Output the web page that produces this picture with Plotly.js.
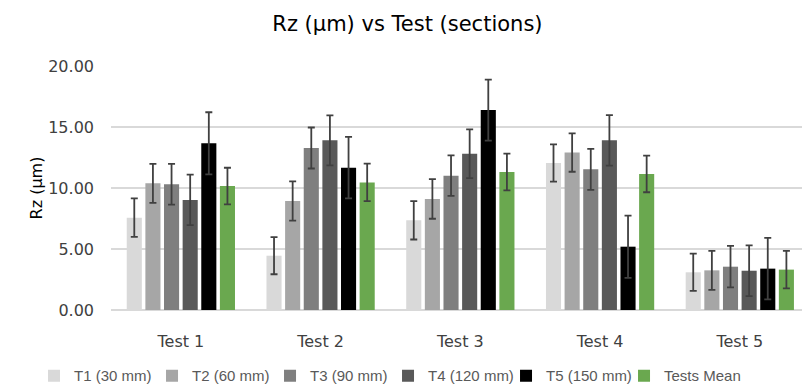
<!DOCTYPE html>
<html>
<head>
<meta charset="utf-8">
<script src="https://cdn.plot.ly/plotly-3.0.1.min.js"></script>
<style>html,body{margin:0;padding:0;background:#fff;}#chart{width:802px;height:386px;}</style>
</head>
<body>
<div id="chart"></div>
<script>
const categories = ["Test 1", "Test 2", "Test 3", "Test 4", "Test 5"];
const seriesNames = ["T1 (30 mm)", "T2 (60 mm)", "T3 (90 mm)", "T4 (120 mm)", "T5 (150 mm)", "Tests Mean"];
const t1 = [7.57, 4.45, 7.35, 12.05, 3.09];
const t2 = [10.38, 8.93, 9.10, 12.90, 3.25];
const t3 = [10.30, 13.28, 11.01, 11.53, 3.55];
const t4 = [9.02, 13.91, 12.81, 13.91, 3.22];
const t5 = [13.66, 11.67, 16.39, 5.19, 3.39];
const mean = [10.16, 10.46, 11.31, 11.15, 3.31];
const t1Err = [1.58, 1.52, 1.57, 1.53, 1.53];
const t2Err = [1.60, 1.61, 1.62, 1.57, 1.60];
const t3Err = [1.67, 1.68, 1.66, 1.68, 1.70];
const t4Err = [2.07, 2.05, 2.00, 2.07, 2.08];
const t5Err = [2.55, 2.52, 2.50, 2.55, 2.52];
const meanErr = [1.50, 1.53, 1.50, 1.50, 1.53];
const yTicks = [0, 5, 10, 15, 20];
const yTickLabels = ["0.00", "5.00", "10.00", "15.00", "20.00"];

const values = [t1, t2, t3, t4, t5, mean];
const errs = [t1Err, t2Err, t3Err, t4Err, t5Err, meanErr];
const colors = ["#d9d9d9", "#a6a6a6", "#7f7f7f", "#595959", "#000000", "#6aa84f"];
const FONT = "DejaVu Sans, Verdana, sans-serif";
const LFONT = "Liberation Sans, Arial, sans-serif";

const traces = values.map((v, i) => ({
  type: "bar",
  name: seriesNames[i],
  x: categories,
  y: v,
  marker: {color: colors[i], line: {width: 0}},
  error_y: {type: "data", array: errs[i], visible: true, color: "#404040", thickness: 1.8, width: 3.5}
}));

const layout = {
  width: 802, height: 386,
  margin: {l: 111, r: 0, t: 66, b: 76, autoexpand: false},
  paper_bgcolor: "#fff", plot_bgcolor: "#fff",
  title: {text: "Rz (µm) vs Test (sections)", font: {family: FONT, size: 21, color: "#000"}, x: 0.508, xref: "container", xanchor: "center", y: 0.94, yref: "container", yanchor: "middle"},
  barmode: "group",
  bargap: 0.2,
  bargroupgap: 0.19,
  showlegend: true,
  legend: {orientation: "h", xref: "paper", x: -0.1114, xanchor: "left", yref: "paper", y: -0.27, yanchor: "middle",
           font: {family: LFONT, size: 15, color: "#595959"}, itemwidth: 30, traceorder: "normal",
           entrywidthmode: "pixels", entrywidth: 73},
  xaxis: {
    range: [-0.5, 4.445], showgrid: false, showline: false, zeroline: false, ticks: "",
    ticklabelstandoff: 20, automargin: false,
    tickfont: {family: FONT, size: 16, color: "#404040"}, fixedrange: true
  },
  yaxis: {
    range: [0, 20], tickvals: yTicks, ticktext: yTickLabels, showgrid: true, gridcolor: "#d9d9d9", gridwidth: 1.3,
    zeroline: true, zerolinecolor: "#d9d9d9", zerolinewidth: 1.3, showline: false, ticks: "",
    ticklabelstandoff: 16, automargin: false,
    tickfont: {family: FONT, size: 16, color: "#404040"},
    title: {text: "Rz (µm)", font: {family: FONT, size: 16, color: "#000"}, standoff: 1}
  }
};

Plotly.newPlot("chart", traces, layout, {displayModeBar: false, staticPlot: true});
</script>
</body>
</html>
